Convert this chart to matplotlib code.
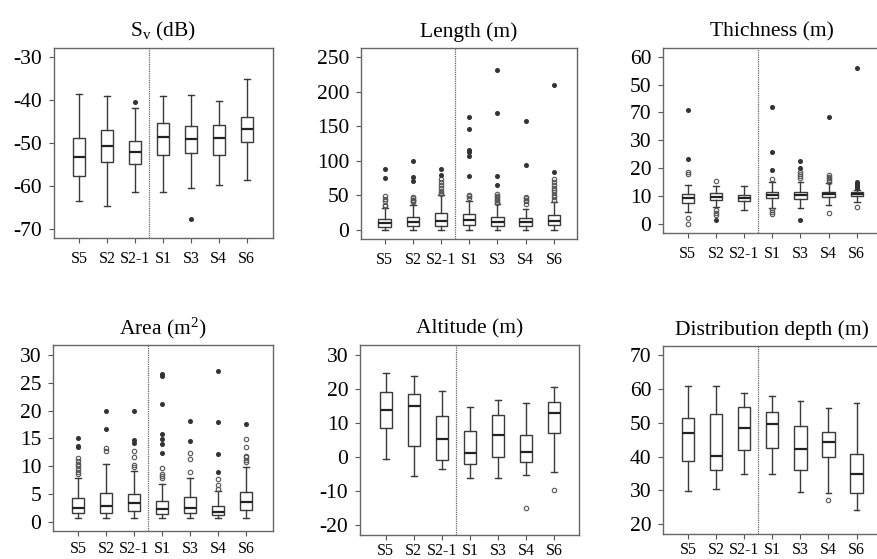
import matplotlib
matplotlib.use('Agg')
import matplotlib.pyplot as plt

plt.rcParams['font.family'] = 'Liberation Serif'
plt.rcParams['mathtext.fontset'] = 'custom'
plt.rcParams['mathtext.rm'] = 'Liberation Serif'
plt.rcParams['mathtext.it'] = 'Liberation Serif:italic'
plt.rcParams['axes.unicode_minus'] = False

stations = ['S5', 'S2', 'S2-1', 'S1', 'S3', 'S4', 'S6']

# five numbers per station: whisker low, Q1, median, Q3, whisker high
sv_box = [(-63.6, -57.7, -53.3, -48.9, -38.6), (-64.7, -54.5, -50.8, -47.0, -39.1),
          (-61.4, -55.0, -52.1, -49.5, -41.9), (-61.3, -52.9, -48.5, -45.3, -39.0),
          (-60.4, -52.4, -49.1, -46.1, -38.8), (-59.8, -52.7, -48.9, -45.7, -40.2),
          (-58.7, -49.8, -46.8, -43.9, -35.1)]
sv_mild = [[], [], [], [], [], [], []]
sv_ext = [[], [], [-40.5], [], [-67.6], [], []]

len_box = [(0.5, 5.0, 9.8, 15.9, 32.0), (0.5, 5.3, 11.0, 18.3, 35.6),
           (0.5, 5.8, 12.5, 24.0, 50.0), (0.5, 7.0, 14.0, 22.6, 42.0),
           (0.5, 5.8, 11.0, 19.3, 37.0), (0.5, 6.3, 11.6, 17.3, 31.0),
           (0.5, 6.7, 12.5, 21.7, 40.5)]
len_mild = [[34, 36, 42, 45, 49], [40, 42, 43, 44, 46, 47],
            [52, 54, 57, 61, 65, 69, 73], [46, 49, 51],
            [39, 41, 43, 45, 47, 49, 52], [37, 42, 44, 46, 48],
            [44, 48, 51, 55, 58, 61, 65, 69, 73]]
len_ext = [[75, 88], [71, 77, 100], [79, 88], [78, 107, 113, 116, 146, 164],
           [65, 78, 169, 231], [94, 157], [84, 209]]

thk_box = [(4.2, 7.6, 9.2, 10.9, 14.1), (6.2, 8.6, 9.8, 11.0, 13.6),
           (5.0, 8.2, 9.4, 10.4, 13.6), (5.9, 9.2, 10.4, 11.6, 15.1),
           (5.6, 9.0, 10.3, 11.5, 14.9), (6.8, 9.7, 10.6, 11.6, 14.6),
           (8.0, 9.9, 10.6, 11.4, 12.3)]
thk_mild = [[0.2, 2.3, 17.8, 18.8], [3.3, 4.1, 5.0, 15.4], [],
            [3.5, 4.3, 5.0, 16.1], [16.4, 17.2, 18.0, 18.8],
            [3.8, 15.2, 15.8, 16.4, 17.0, 17.6], [6.0]]
thk_ext = [[23.2, 41.0], [1.4], [], [19.4, 25.9, 42.1], [1.3, 20.2, 22.5],
           [38.2], [12.9, 13.4, 13.9, 14.4, 14.9, 55.9]]
thk_labels = ['0', '10', '20', '30', '70', '50', '60']

area_box = [(0.7, 1.5, 2.5, 4.2, 7.9), (0.7, 1.6, 2.9, 5.2, 10.4),
            (0.7, 1.9, 3.3, 4.9, 9.1), (0.7, 1.4, 2.2, 3.7, 6.8),
            (0.7, 1.6, 2.5, 4.4, 7.9), (0.7, 1.2, 1.7, 2.9, 5.5),
            (0.7, 2.1, 3.5, 5.3, 9.9)]
area_mild = [[8.5, 9.0, 9.5, 10.0, 10.4, 10.9, 11.5], [12.7, 13.2],
             [9.9, 10.2, 11.7, 12.7], [7.9, 8.2, 8.5, 9.7],
             [8.9, 11.3, 12.3], [5.9, 6.6, 7.7],
             [10.8, 11.1, 11.6, 11.9, 13.4, 14.8]]
area_ext = [[13.4, 13.7, 15.0], [16.6, 19.9], [14.2, 14.7, 19.9],
            [12.3, 14.0, 14.9, 15.8, 21.1, 26.3, 26.6], [14.6, 18.1],
            [8.9, 12.1, 17.9, 27.2], [17.6]]

alt_box = [(-0.6, 8.6, 13.7, 19.0, 24.6), (-5.6, 3.1, 15.1, 18.6, 23.7),
           (-3.7, -0.8, 5.3, 12.1, 19.5), (-6.3, -2.2, 1.0, 7.5, 14.6),
           (-6.3, 0.0, 6.3, 12.2, 16.7), (-5.4, -1.5, 1.4, 6.3, 15.9),
           (-4.5, 6.9, 12.9, 16.2, 20.4)]
alt_mild = [[], [], [], [], [], [-15.1], [-9.9]]
alt_ext = [[], [], [], [], [], [], []]

dep_box = [(29.8, 38.7, 46.9, 51.3, 61.0), (30.5, 36.0, 40.3, 52.6, 60.9),
           (34.7, 41.9, 48.5, 54.6, 58.9), (34.8, 42.4, 49.6, 53.1, 58.0),
           (29.5, 36.0, 42.1, 49.0, 56.4), (29.2, 40.0, 44.2, 47.4, 54.5),
           (24.2, 29.2, 34.9, 40.7, 55.9)]
dep_mild = [[], [], [], [], [], [27.2], []]
dep_ext = [[], [], [], [], [], [], []]

W, H = 877, 559
fig = plt.figure(figsize=(W / 100, H / 100), dpi=100)
dark = '#3a3a3a'


def panel(px, title, boxes, mild, ext, yticks, ylim, xlim, ylabels=None, xpad=6):
    l, t, r, b = px
    ax = fig.add_axes([l / W, 1 - b / H, (r - l) / W, (b - t) / H])
    stats = []
    for (lo, q1, med, q3, hi), m in zip(boxes, mild):
        stats.append(dict(whislo=lo, q1=q1, med=med, q3=q3, whishi=hi, fliers=m))
    ax.bxp(stats, positions=range(1, 8), widths=0.44, capwidths=0.2,
           patch_artist=True,
           boxprops=dict(facecolor='white', edgecolor=dark, linewidth=1.0),
           whiskerprops=dict(color=dark, linewidth=1.0),
           capprops=dict(color=dark, linewidth=1.0),
           medianprops=dict(color='#222222', linewidth=1.6),
           flierprops=dict(marker='o', markersize=3.2, markerfacecolor='none',
                           markeredgecolor='#555555', markeredgewidth=0.8))
    for i, e in enumerate(ext):
        ax.plot([i + 1] * len(e), e, 'o', ms=2.6, color='#333333', ls='none')
    ax.axvline(3.5, color='#666666', ls=(0, (1, 0.8)), lw=0.9)
    ax.set_xlim(*xlim)
    ax.set_ylim(*ylim)
    ax.set_xticks(range(1, 8))
    ax.set_xticklabels(stations)
    ax.set_yticks(yticks)
    if ylabels is not None:
        ax.set_yticklabels(ylabels)
    ax.tick_params(direction='out', length=3.5, width=0.8, color='#555555')
    ax.tick_params(axis='x', labelsize=11.5, pad=xpad)
    ax.tick_params(axis='y', labelsize=15.5, pad=5)
    for s in ax.spines.values():
        s.set_color('#666666')
        s.set_linewidth(1.0)
    ax.set_title(title, fontsize=15.5, pad=8)
    return ax


panel((54, 48, 273, 238), 'S$_{\\mathrm{v}}$ (dB)', sv_box, sv_mild, sv_ext,
      range(-70, -29, 10), (-72.1, -27.9), (0.1, 7.94))
panel((361, 48, 577, 239), 'Length (m)', len_box, len_mild, len_ext,
      range(0, 251, 50), (-13, 263), (0.16, 7.82))
panel((663, 48, 881, 233), 'Thichness (m)', thk_box, thk_mild, thk_ext,
      range(0, 61, 10), (-3.2, 63.1), (0.12, 7.86), thk_labels)
panel((53, 345, 273, 531), 'Area (m$^{2}$)', area_box, area_mild, area_ext,
      range(0, 31, 5), (-1.67, 31.8), (0.1, 7.97), xpad=4)
panel((360, 345, 579, 535), 'Altitude (m)', alt_box, alt_mild, alt_ext,
      range(-20, 31, 10), (-23, 32.9), (0.085, 7.88), xpad=2)
panel((663, 346, 881, 534), 'Distribution depth (m)', dep_box, dep_mild, dep_ext,
      range(20, 71, 10), (17.1, 72.7), (0.11, 7.87), xpad=2)

fig.savefig('out.png', dpi=100)
